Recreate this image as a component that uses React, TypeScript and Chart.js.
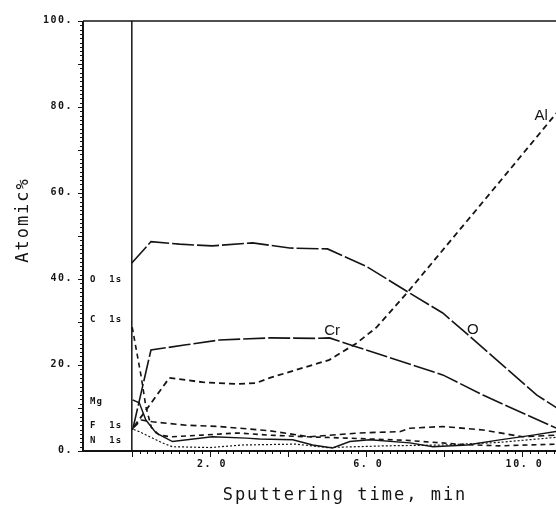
import { useEffect, useRef } from "react";
import { Chart, registerables } from "chart.js";

Chart.register(...registerables);

// ---- axis ranges & ticks ----
const X_MIN = -1.25;
const X_MAX = 11.5;
const Y_MIN = 0;
const Y_MAX = 100;
const yTickValues = [0, 20, 40, 60, 80, 100];
const yTickLabels = ["0.", "20.", "40.", "60.", "80.", "100."];
const xTickValues = [2, 6, 10];
const xTickLabels = ["2. 0", "6. 0", "10. 0"];

// ---- series (sputtering time in min, atomic %) ----
const oTime = [0.0, 0.49, 1.22, 2.06, 3.09, 4.04, 5.01, 6.01, 7.12, 7.96, 8.47, 10.37, 10.9];
const oPct = [43.7, 48.7, 48.1, 47.7, 48.4, 47.2, 47.0, 42.9, 36.7, 32.1, 28.1, 13.0, 9.9];

const crTime = [0.02, 0.49, 1.39, 2.24, 3.53, 4.72, 5.06, 5.76, 7.96, 8.99, 10.9];
const crPct = [4.9, 23.5, 24.7, 25.8, 26.3, 26.2, 26.3, 24.2, 17.7, 13.0, 5.2];

const alTime = [0.06, 0.96, 1.81, 2.67, 3.18, 3.53, 5.06, 5.76, 6.27, 7.04, 9.5, 10.9];
const alPct = [5.7, 17.0, 16.0, 15.6, 15.8, 17.0, 21.2, 25.1, 28.8, 36.7, 63.5, 78.9];

const cTime = [0.01, 0.24, 0.36, 0.5, 0.7, 1.0, 1.8, 2.7, 3.5, 4.5, 5.5, 7.0, 8.5, 9.4, 10.9];
const cPct = [28.8, 17.3, 10.3, 5.5, 3.7, 3.3, 3.7, 4.2, 3.7, 3.3, 3.0, 2.5, 1.5, 1.2, 1.6];

const fTime = [0.05, 0.24, 0.53, 1.39, 2.24, 3.53, 4.55, 5.83, 6.86, 7.12, 7.96, 8.99, 10.01, 10.9];
const fPct = [5.5, 7.2, 6.8, 6.0, 5.7, 4.7, 3.3, 4.2, 4.5, 5.3, 5.7, 4.9, 3.3, 3.7];

const mgTime = [0.02, 0.19, 0.36, 0.62, 1.04, 2.06, 2.93, 3.27, 4.12, 4.63, 5.14, 5.58, 6.09, 7.12, 7.71, 8.58, 9.42, 10.27, 10.9];
const mgPct = [11.9, 11.2, 7.2, 4.2, 2.2, 3.3, 3.0, 2.8, 2.6, 1.4, 0.7, 2.2, 2.6, 1.9, 1.0, 1.4, 2.6, 3.7, 4.6];

const nTime = [0.05, 0.19, 0.78, 1.04, 2.0, 2.84, 4.2, 5.0, 6.5, 8.0, 9.4, 10.9];
const nPct = [5.0, 4.5, 1.9, 1.0, 0.8, 1.4, 1.6, 0.8, 1.2, 1.4, 2.0, 3.2];

// ---- text annotations (data coords) ----
const curveLabels = [
  { text: "Al", x: 10.48, y: 77.9 },
  { text: "Cr", x: 5.13, y: 27.9 },
  { text: "O", x: 8.73, y: 28.1 },
];
const peakLabels = [
  { text: "O  1s", x: -1.07, y: 39.8 },
  { text: "C  1s", x: -1.07, y: 30.5 },
  { text: "Mg", x: -1.07, y: 11.4 },
  { text: "F  1s", x: -1.07, y: 5.9 },
  { text: "N  1s", x: -1.07, y: 2.3 },
];

const xTitle = "Sputtering time, min";
const yTitle = "Atomic%";

const pts = (xs: number[], ys: number[]) => xs.map((x, i) => ({ x, y: ys[i] }));

const INK = "#141414";

const decor = {
  id: "decor",
  afterDraw(chart: any) {
    const { ctx, chartArea, scales } = chart;
    const { left, right, top, bottom } = chartArea;
    const xs = scales.x;
    const ys = scales.y;
    const line = (a: number, b: number, c: number, d: number) => {
      ctx.beginPath();
      ctx.moveTo(a, b);
      ctx.lineTo(c, d);
      ctx.stroke();
    };
    ctx.save();
    ctx.strokeStyle = INK;
    ctx.fillStyle = INK;
    ctx.setLineDash([]);
    // frame
    ctx.lineWidth = 2;
    line(left, top, left, bottom + 1);
    line(left, bottom, right, bottom);
    ctx.lineWidth = 1.5;
    line(left, top, right, top);
    const x0 = xs.getPixelForValue(0);
    line(x0, top, x0, bottom);
    // y ticks
    ctx.lineWidth = 1;
    for (let v = Y_MIN; v <= Y_MAX; v++) {
      const py = Math.round(ys.getPixelForValue(v)) + 0.5;
      const len = v % 10 === 0 ? 5 : 3;
      line(left - len, py, left, py);
    }
    // x ticks
    for (let i = 0; i * 0.2 <= X_MAX; i++) {
      const px = Math.round(xs.getPixelForValue(i * 0.2)) + 0.5;
      const len = i % 10 === 0 ? 6 : 3;
      line(px, bottom, px, bottom + len);
    }
    // tick labels
    ctx.font = "bold 10px 'DejaVu Sans Mono'";
    (ctx as any).letterSpacing = "1.5px";
    ctx.textAlign = "right";
    ctx.textBaseline = "middle";
    yTickValues.forEach((v, i) => {
      ctx.fillText(yTickLabels[i], left - 10, ys.getPixelForValue(v) - 1);
    });
    ctx.textAlign = "center";
    xTickValues.forEach((v, i) => {
      ctx.fillText(xTickLabels[i], xs.getPixelForValue(v) + 2, bottom + 13);
    });
    // peak labels in the left panel
    ctx.textAlign = "left";
    ctx.font = "bold 9px 'DejaVu Sans Mono'";
    (ctx as any).letterSpacing = "1px";
    peakLabels.forEach((l) => {
      ctx.fillText(l.text, xs.getPixelForValue(l.x), ys.getPixelForValue(l.y));
    });
    // curve labels
    (ctx as any).letterSpacing = "0px";
    ctx.font = "15px 'Liberation Sans'";
    ctx.textAlign = "center";
    curveLabels.forEach((l) => {
      ctx.fillText(l.text, xs.getPixelForValue(l.x), ys.getPixelForValue(l.y));
    });
    // axis titles
    ctx.font = "17px 'DejaVu Sans Mono'";
    (ctx as any).letterSpacing = "2px";
    ctx.textAlign = "center";
    ctx.textBaseline = "alphabetic";
    ctx.fillText(xTitle, 345, 500);
    ctx.save();
    ctx.translate(28, 220);
    ctx.rotate(-Math.PI / 2);
    ctx.fillText(yTitle, 0, 0);
    ctx.restore();
    ctx.restore();
  },
};

export default function App() {
  const ref = useRef<HTMLCanvasElement | null>(null);
  useEffect(() => {
    if (!ref.current) return;
    const ds = (label: string, xs: number[], ys: number[], dash: number[], width: number) => ({
      label,
      data: pts(xs, ys),
      borderColor: INK,
      borderWidth: width,
      borderDash: dash,
      pointRadius: 0,
      tension: 0,
      fill: false,
    });
    const chart = new Chart(ref.current, {
      type: "line",
      data: {
        datasets: [
          ds("O", oTime, oPct, [22, 3], 1.6),
          ds("Cr", crTime, crPct, [22, 3], 1.6),
          ds("Al", alTime, alPct, [6, 4], 1.8),
          ds("C 1s", cTime, cPct, [5, 4], 1.6),
          ds("F 1s", fTime, fPct, [6, 4], 1.6),
          ds("Mg", mgTime, mgPct, [], 1.4),
          ds("N 1s", nTime, nPct, [2, 2], 1.2),
        ],
      },
      options: {
        responsive: false,
        animation: false,
        devicePixelRatio: 1,
        layout: { padding: { top: 21, right: 9, left: 0, bottom: 0 } },
        scales: {
          x: {
            type: "linear",
            min: X_MIN,
            max: X_MAX,
            grid: { display: false },
            border: { display: false },
            ticks: { display: false },
            afterFit: (s: any) => {
              s.height = 55;
            },
          },
          y: {
            type: "linear",
            min: Y_MIN,
            max: Y_MAX,
            grid: { display: false },
            border: { display: false },
            ticks: { display: false },
            afterFit: (s: any) => {
              s.width = 83;
            },
          },
        },
        plugins: { legend: { display: false }, tooltip: { enabled: false } },
      } as any,
      plugins: [decor],
    });
    return () => chart.destroy();
  }, []);
  return (
    <div
      style={{
        position: "fixed",
        left: 0,
        top: 0,
        width: 556,
        height: 506,
        overflow: "hidden",
        background: "#fff",
      }}
    >
      <canvas ref={ref} width={590} height={506} style={{ display: "block" }} />
    </div>
  );
}
